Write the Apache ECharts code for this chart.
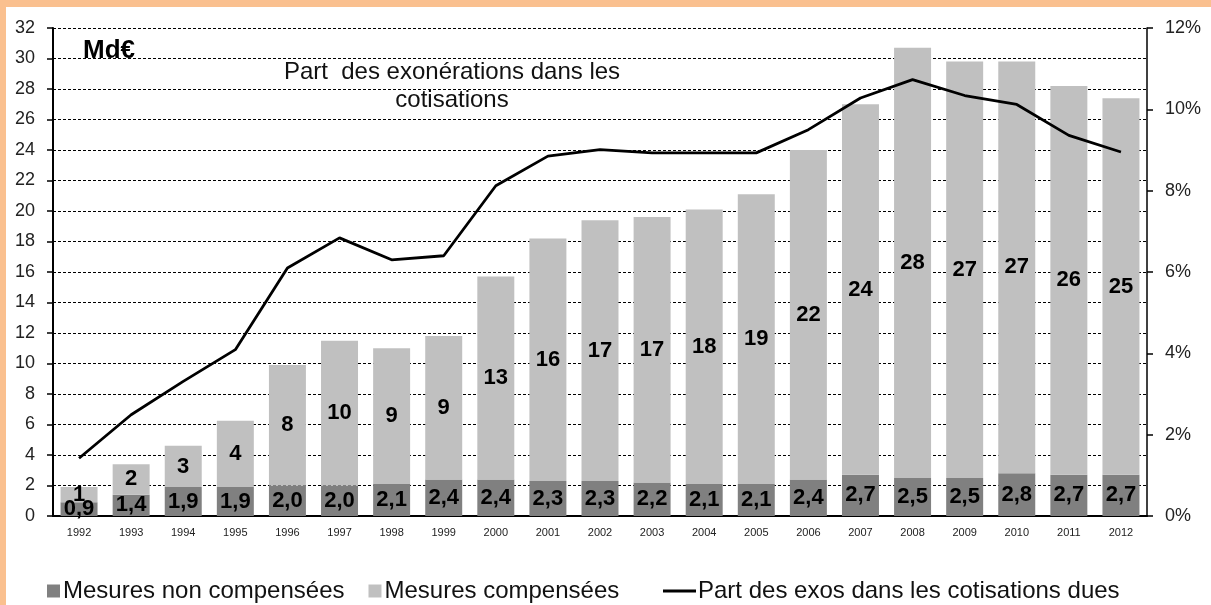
<!DOCTYPE html>
<html>
<head>
<meta charset="utf-8">
<script src="https://cdn.jsdelivr.net/npm/echarts@6/dist/echarts.min.js"></script>
<style>
  html, body { margin: 0; padding: 0; background: #FAC08F; }
  #chart-exos { position: absolute; left: 6px; top: 7px; width: 1205px; height: 598px; background: #fff; }
</style>
</head>
<body>
<div id="chart-exos"></div>
<script>
// données
var years = ['1992', '1993', '1994', '1995', '1996', '1997', '1998', '1999', '2000', '2001', '2002',
    '2003', '2004', '2005', '2006', '2007', '2008', '2009', '2010', '2011', '2012'];
// Md€
var nonCompensees = [0.9, 1.4, 1.9, 1.9, 2.0, 2.0, 2.1, 2.4, 2.4, 2.3, 2.3, 2.2, 2.1, 2.1, 2.4, 2.7, 2.5, 2.5, 2.8, 2.7, 2.7];
var compensees = [1.0, 2.0, 2.7, 4.35, 7.9, 9.5, 8.9, 9.4, 13.3, 15.9, 17.1, 17.4, 18.0, 19.0, 21.6, 24.3, 28.2, 27.3, 27.0, 25.5, 24.7];
// % des cotisations dues
var partExos = [1.42, 2.49, 3.31, 4.09, 6.10, 6.84, 6.30, 6.40, 8.12, 8.85, 9.01, 8.93, 8.93, 8.93, 9.50, 10.28, 10.73, 10.34, 10.12, 9.36, 8.95];

var seriesNames = ['Mesures non compensées', 'Mesures compensées', 'Part des exos dans les cotisations dues'];

var chartExos = echarts.init(document.getElementById('chart-exos'));

var font = "'Liberation Sans', Arial, sans-serif";

var option = {
    backgroundColor: '#fff',
    animation: false,
    textStyle: { fontFamily: font },
    title: {
        text: 'Md€',
        left: 77,
        top: 31,
        padding: 0,
        textStyle: { fontSize: 26, fontWeight: 'bold', color: '#000', fontFamily: font }
    },
    graphic: [{
        type: 'group',
        z: 100,
        children: [{
            type: 'rect',
            shape: { x: 219, y: 33, width: 460, height: 88 },
            style: { fill: '#fff' }
        }, {
            type: 'text',
            x: 446,
            y: 51,
            style: {
                text: 'Part  des exonérations dans les\ncotisations',
                font: '24px ' + font,
                fill: '#111',
                align: 'center',
                lineHeight: 28
            }
        }]
    }],
    legend: [{
        data: [seriesNames[0], seriesNames[1]],
        left: 41,
        top: 572,
        padding: 0,
        icon: 'rect',
        itemWidth: 13,
        itemHeight: 13,
        itemGap: 24,
        selectedMode: false,
        textStyle: { fontSize: 24, color: '#111', fontFamily: font, padding: [0, 0, 0, -2] }
    }, {
        data: [seriesNames[2]],
        left: 657,
        top: 572,
        padding: 0,
        icon: 'rect',
        itemWidth: 33,
        itemHeight: 3,
        selectedMode: false,
        textStyle: { fontSize: 24, color: '#111', fontFamily: font, padding: [0, 0, 0, -3] }
    }],
    grid: {
        left: 47,
        right: 64,
        top: 21,
        bottom: 89
    },
    xAxis: {
        type: 'category',
        data: years,
        axisLine: { lineStyle: { color: '#000', width: 2 } },
        axisTick: { length: 5, lineStyle: { color: '#000', width: 1.5 } },
        axisLabel: {
            fontSize: 11,
            color: '#222',
            margin: 11,
            fontFamily: "'Liberation Sans Narrow', 'Arial Narrow', 'Liberation Sans', sans-serif"
        }
    },
    yAxis: [{
        type: 'value',
        min: 0,
        max: 32,
        interval: 2,
        axisLine: { show: true, lineStyle: { color: '#000', width: 2 } },
        axisTick: { show: true, length: 6, lineStyle: { color: '#000', width: 1.5 } },
        axisLabel: { fontSize: 18, color: '#222', margin: 18 },
        splitLine: { lineStyle: { color: '#000', type: [3, 2], width: 1 } }
    }, {
        type: 'value',
        position: 'right',
        min: 0,
        max: 12,
        interval: 2,
        axisLine: { show: true, lineStyle: { color: '#000', width: 1.5 } },
        axisTick: { show: true, length: 6, lineStyle: { color: '#000', width: 1.5 } },
        axisLabel: { fontSize: 18, color: '#222', margin: 18, formatter: '{value}%' },
        splitLine: { show: false }
    }],
    series: [{
        name: seriesNames[0],
        type: 'bar',
        stack: 'exos',
        barWidth: '71%',
        data: nonCompensees,
        itemStyle: { color: '#808080' },
        label: {
            show: true,
            position: 'inside',
            fontSize: 22,
            fontWeight: 'bold',
            color: '#000',
            formatter: function (p) { return p.value.toFixed(1).replace('.', ','); }
        }
    }, {
        name: seriesNames[1],
        type: 'bar',
        stack: 'exos',
        barWidth: '71%',
        data: compensees,
        itemStyle: { color: '#C0C0C0' },
        label: {
            show: true,
            position: 'inside',
            fontSize: 22,
            fontWeight: 'bold',
            color: '#000',
            formatter: function (p) { return String(Math.round(p.value)); }
        }
    }, {
        name: seriesNames[2],
        type: 'line',
        yAxisIndex: 1,
        data: partExos,
        showSymbol: false,
        symbol: 'none',
        itemStyle: { color: '#000' },
        lineStyle: { color: '#000', width: 2.8 },
        z: 5
    }]
};

chartExos.setOption(option);
</script>
</body>
</html>
